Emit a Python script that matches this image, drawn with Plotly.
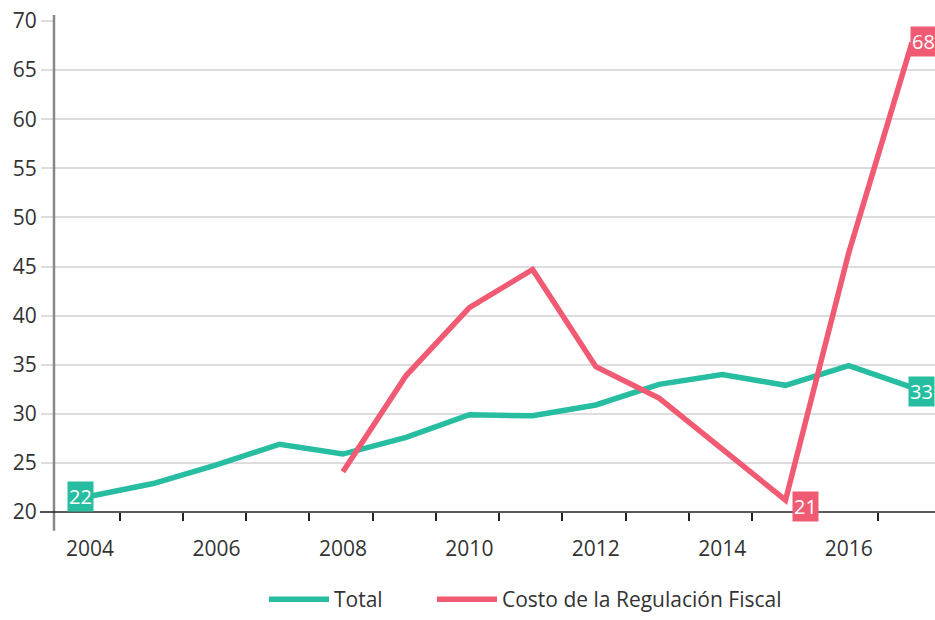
import plotly.graph_objects as go

years = list(range(2004, 2018))
total = [21.6, 22.9, 24.8, 26.9, 25.9, 27.6, 29.9, 29.8, 30.9, 33.0, 34.0, 32.9, 34.9, 32.7]
reg_years = list(range(2008, 2018))
regulacion = [24.1, 33.9, 40.8, 44.7, 34.8, 31.6, 26.4, 21.2, 46.4, 67.8]

GREEN = "#26BDA0"
RED = "#F05B73"
FONT = "Open Sans"

T, B, L = 21, 101, 54
PH = 620 - T - B
PW = 935 - L

fig = go.Figure()
fig.add_trace(go.Scatter(x=years, y=total, mode="lines", name="Total",
                         line=dict(color=GREEN, width=5.5), hoverinfo="x+y",
                         legend="legend"))
fig.add_trace(go.Scatter(x=reg_years, y=regulacion, mode="lines",
                         name="Costo de la Regulación Fiscal",
                         line=dict(color=RED, width=5.5), hoverinfo="x+y",
                         legend="legend2"))

def label(x, y, color, xanchor, xshift, yshift):
    fig.add_annotation(x=x, y=y, text=f"{round(y)}", showarrow=False,
                       xanchor=xanchor, yanchor="middle", xshift=xshift, yshift=yshift,
                       bgcolor=color, borderpad=1,
                       font=dict(family=FONT, size=20, color="white"))

label(years[0], total[0], GREEN, "center", -9, 0)
label(years[-1], total[-1], GREEN, "left", -4, -4)
label(reg_years[-1], regulacion[-1], RED, "left", -2, 1)
label(reg_years[7], regulacion[7], RED, "left", 6, -6)

# axis lines
fig.add_shape(type="line", xref="paper", yref="paper", x0=0, x1=0,
              y0=-19 / PH, y1=1 + 6 / PH,
              line=dict(color="#888888", width=2.5), layer="above")
fig.add_shape(type="line", xref="paper", yref="paper", x0=-14 / PW, x1=1, y0=0, y1=0,
              line=dict(color="#222222", width=1.5), layer="above")

leg_common = dict(orientation="h", yanchor="middle", xanchor="left", y=-89 / PH,
                  itemwidth=60, font=dict(family=FONT, size=21, color="#333333"),
                  bgcolor="rgba(0,0,0,0)")

fig.update_layout(
    width=935, height=620,
    margin=dict(l=L, r=0, t=T, b=B),
    plot_bgcolor="white", paper_bgcolor="white",
    font=dict(family=FONT, size=20, color="#333333"),
    showlegend=True,
    legend=dict(x=(264 - L) / PW, **leg_common),
    legend2=dict(x=(432 - L) / PW, **leg_common),
    xaxis=dict(range=[2003.431, 2017.364], showgrid=False, zeroline=False, showline=False,
               automargin=False,
               tickvals=[2004, 2006, 2008, 2010, 2012, 2014, 2016],
               ticktext=["2004", "2006", "2008", "2010", "2012", "2014", "2016"],
               ticks="", ticklabelstandoff=22, tickfont=dict(size=21),
               minor=dict(ticks="outside", tickvals=[y + 0.47 for y in range(2004, 2017)],
                          ticklen=8, tickwidth=1.5, tickcolor="#222222", showgrid=False)),
    yaxis=dict(range=[20, 70], dtick=5, tick0=20, showgrid=True, gridcolor="#dddddd",
               gridwidth=1.5, zeroline=False, showline=False, automargin=False,
               tickfont=dict(size=21),
               ticks="outside", ticklen=12, tickcolor="#dddddd", tickwidth=1.5),
)

post = """
document.documentElement.style.margin='0';
document.documentElement.style.padding='0';
document.documentElement.style.overflow='hidden';
document.body.style.margin='0';
document.body.style.padding='0';
document.body.style.overflow='hidden';
var gd=document.getElementById('{plot_id}');
gd.style.position='fixed'; gd.style.top='0px'; gd.style.left='0px';
"""

fig.write_html("out.html", config={"displayModeBar": False}, post_script=post)
